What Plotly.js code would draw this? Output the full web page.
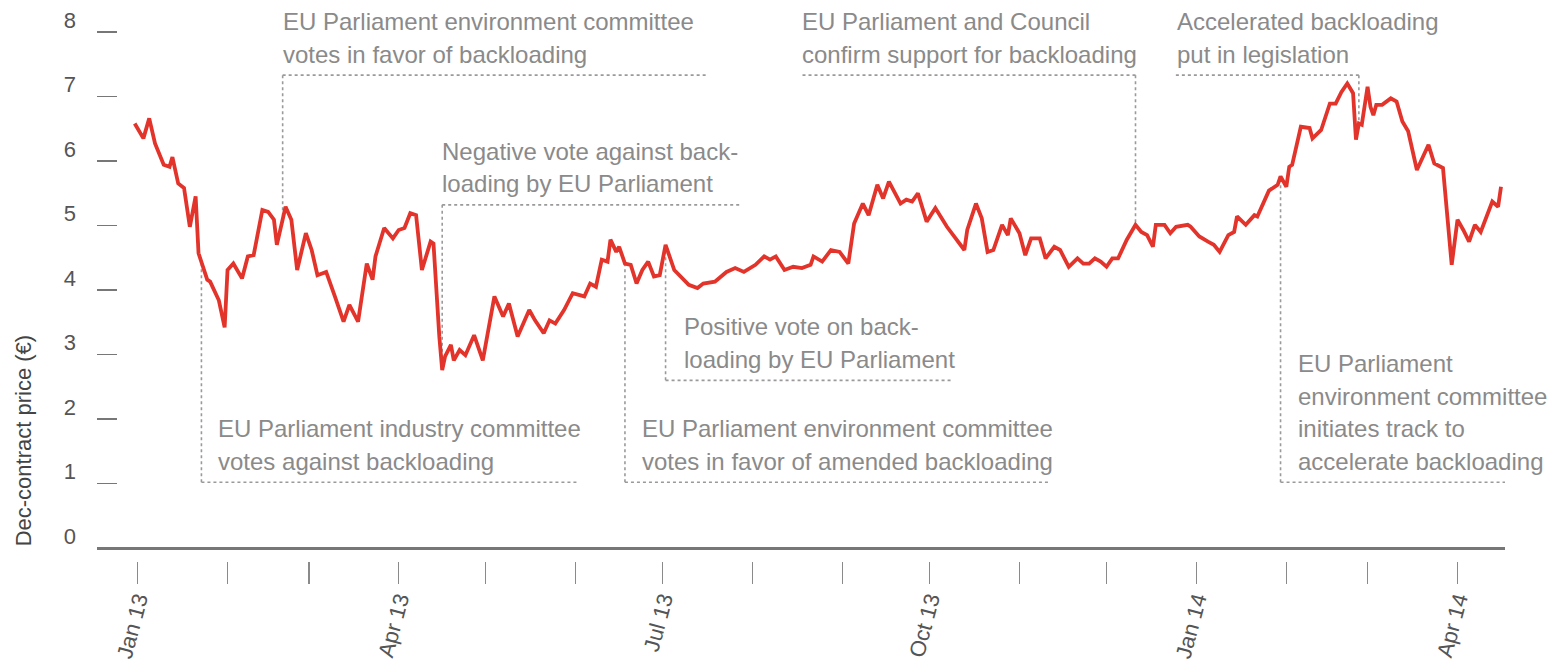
<!DOCTYPE html>
<html>
<head>
<meta charset="utf-8">
<script src="https://cdn.plot.ly/plotly-3.0.1.min.js"></script>
<style>html,body{margin:0;padding:0;background:#fff;}#chart{width:1555px;height:670px;}</style>
</head>
<body>
<div id="chart"></div>
<script>
// ---- data ----
const dates = [
'2012-12-31','2013-01-03','2013-01-05','2013-01-07','2013-01-10','2013-01-12','2013-01-13','2013-01-15','2013-01-17','2013-01-19',
'2013-01-21','2013-01-22','2013-01-25','2013-01-26','2013-01-29','2013-01-31','2013-02-01','2013-02-03','2013-02-06','2013-02-08',
'2013-02-10','2013-02-13','2013-02-15','2013-02-17','2013-02-18','2013-02-21','2013-02-23','2013-02-25','2013-02-28','2013-03-02',
'2013-03-04','2013-03-07','2013-03-10','2013-03-13','2013-03-15','2013-03-18','2013-03-21','2013-03-23','2013-03-24','2013-03-27',
'2013-03-30','2013-04-01','2013-04-03','2013-04-05','2013-04-07','2013-04-09','2013-04-12','2013-04-13','2013-04-15','2013-04-16',
'2013-04-17','2013-04-19','2013-04-20','2013-04-22','2013-04-24','2013-04-27','2013-04-30','2013-05-02','2013-05-04','2013-05-07',
'2013-05-09','2013-05-12','2013-05-16','2013-05-18','2013-05-21','2013-05-23','2013-05-25','2013-05-28','2013-05-31','2013-06-04',
'2013-06-06','2013-06-08','2013-06-10','2013-06-12','2013-06-13','2013-06-15','2013-06-16','2013-06-18','2013-06-20','2013-06-22',
'2013-06-24','2013-06-26','2013-06-28','2013-06-30','2013-07-02','2013-07-05','2013-07-08','2013-07-10','2013-07-13','2013-07-15',
'2013-07-19','2013-07-23','2013-07-26','2013-07-29','2013-08-02','2013-08-05','2013-08-07','2013-08-09','2013-08-12','2013-08-15',
'2013-08-18','2013-08-21','2013-08-22','2013-08-25','2013-08-28','2013-08-31','2013-09-03','2013-09-05','2013-09-08','2013-09-10',
'2013-09-13','2013-09-15','2013-09-17','2013-09-21','2013-09-23','2013-09-25','2013-09-27','2013-09-30','2013-10-03','2013-10-07',
'2013-10-10','2013-10-13','2013-10-14','2013-10-17','2013-10-19','2013-10-21','2013-10-23','2013-10-26','2013-10-28','2013-10-29',
'2013-11-01','2013-11-03','2013-11-05','2013-11-08','2013-11-10','2013-11-13','2013-11-15','2013-11-18','2013-11-21','2013-11-23',
'2013-11-25','2013-11-27','2013-11-29','2013-12-01','2013-12-03','2013-12-05','2013-12-08','2013-12-11','2013-12-13','2013-12-15',
'2013-12-17','2013-12-18','2013-12-21','2013-12-23','2013-12-25','2013-12-29','2013-12-30','2014-01-02','2014-01-05','2014-01-07',
'2014-01-09','2014-01-12','2014-01-14','2014-01-15','2014-01-18','2014-01-21','2014-01-22','2014-01-24','2014-01-26','2014-01-29',
'2014-01-30','2014-02-01','2014-02-02','2014-02-03','2014-02-06','2014-02-09','2014-02-10','2014-02-13','2014-02-16','2014-02-18',
'2014-02-20','2014-02-22','2014-02-24','2014-02-25','2014-02-26','2014-02-27','2014-03-01','2014-03-02','2014-03-03','2014-03-04',
'2014-03-06','2014-03-09','2014-03-11','2014-03-13','2014-03-15','2014-03-18','2014-03-20','2014-03-22','2014-03-24','2014-03-27',
'2014-03-30','2014-04-01','2014-04-03','2014-04-05','2014-04-07','2014-04-09','2014-04-13','2014-04-15','2014-04-16'
];
const prices = [
6.58,6.35,6.66,6.27,5.94,5.91,6.06,5.65,5.58,4.98,
5.45,4.57,4.16,4.13,3.84,3.42,4.31,4.41,4.18,4.52,
4.54,5.24,5.21,5.09,4.70,5.29,5.09,4.31,4.88,4.62,
4.23,4.28,3.90,3.51,3.77,3.51,4.41,4.16,4.52,4.96,
4.80,4.93,4.96,5.19,5.16,4.31,4.75,4.72,3.28,2.76,
2.97,3.15,2.91,3.07,2.99,3.30,2.91,3.38,3.90,3.59,
3.79,3.28,3.69,3.53,3.33,3.53,3.48,3.69,3.95,3.90,
4.10,4.05,4.47,4.44,4.78,4.59,4.67,4.41,4.39,4.10,
4.31,4.44,4.21,4.23,4.70,4.31,4.18,4.08,4.03,4.10,
4.13,4.28,4.34,4.28,4.39,4.52,4.47,4.52,4.31,4.36,
4.34,4.39,4.52,4.44,4.62,4.59,4.41,5.03,5.34,5.16,
5.63,5.42,5.68,5.34,5.40,5.37,5.50,5.06,5.27,4.98,
4.80,4.62,4.93,5.34,5.11,4.59,4.62,5.01,4.85,5.11,
4.88,4.54,4.80,4.80,4.49,4.67,4.62,4.36,4.49,4.41,
4.41,4.49,4.44,4.36,4.49,4.49,4.78,5.01,4.90,4.85,
4.67,5.01,5.01,4.88,4.98,5.01,4.98,4.83,4.75,4.70,
4.59,4.85,4.90,5.14,5.01,5.16,5.14,5.34,5.54,5.63,
5.76,5.60,5.91,5.94,6.53,6.51,6.35,6.48,6.89,6.89,
7.07,7.20,7.05,6.33,6.58,6.56,7.15,6.84,6.71,6.87,
6.87,6.97,6.92,6.61,6.46,5.86,6.07,6.25,5.96,5.89,
4.39,5.09,4.93,4.75,5.01,4.90,5.37,5.29,5.60
];

const monthTicks = ['2013-01-01','2013-02-01','2013-03-01','2013-04-01','2013-05-01','2013-06-01','2013-07-01','2013-08-01',
  '2013-09-01','2013-10-01','2013-11-01','2013-12-01','2014-01-01','2014-02-01','2014-03-01','2014-04-01'];
const monthLabels = ['Jan 13','','','Apr 13','','','Jul 13','','','Oct 13','','','Jan 14','','','Apr 14'];
const yTicks = [0,1,2,3,4,5,6,7,8];

const eventDates = ['2013-01-23','2013-02-20','2013-04-16','2013-06-18','2013-07-02','2013-12-11','2014-01-30','2014-02-26'];
const eventLabels = [
  ['EU Parliament industry committee', 'votes against backloading'],
  ['EU Parliament environment committee', 'votes in favor of backloading'],
  ['Negative vote against back-', 'loading by EU Parliament'],
  ['EU Parliament environment committee', 'votes in favor of amended backloading'],
  ['Positive vote on back-', 'loading by EU Parliament'],
  ['EU Parliament and Council', 'confirm support for backloading'],
  ['EU Parliament', 'environment committee', 'initiates track to', 'accelerate backloading'],
  ['Accelerated backloading', 'put in legislation']
];

// ---- callout placement (layout only) ----
const calloutPlace = [
  {level: 1.02, dir: 1,  len: 377, dx: 15},
  {level: 7.33, dir: 1,  len: 425, dx: -2},
  {level: 5.32, dir: 1,  len: 298, dx: -2},
  {level: 1.02, dir: 1,  len: 424, dx: 15},
  {level: 2.60, dir: 1,  len: 287, dx: 16},
  {level: 7.33, dir: -1, len: 334, dx: -336},
  {level: 1.02, dir: 1,  len: 260, dx: 15},
  {level: 7.33, dir: -1, len: 185, dx: -184}
];
const LINE_GAP = 21;     // px from bracket to centre of last text line
const LINE_STEP = 32.5;  // px between text lines

const FONT = 'Liberation Sans, Arial, Helvetica, sans-serif';
const dotLine = {color: '#9a9a9a', width: 1.6, dash: 'dot'};
const ms = d => Date.parse(d + 'T00:00:00Z');
function priceAt(d) {
  const t = ms(d);
  for (let i = 0; i < dates.length - 1; i++) {
    const a = ms(dates[i]), b = ms(dates[i + 1]);
    if (t >= a && t <= b) return prices[i] + (prices[i + 1] - prices[i]) * (t - a) / (b - a);
  }
  return prices[prices.length - 1];
}

const shapes = [];
const annotations = [];
eventDates.forEach((d, i) => {
  const p = calloutPlace[i];
  shapes.push({type: 'line', xref: 'x', yref: 'y', x0: d, x1: d, y0: p.level, y1: priceAt(d), line: dotLine, layer: 'below'});
  shapes.push({type: 'line', xref: 'x', xsizemode: 'pixel', xanchor: d, x0: 0, x1: p.dir * p.len,
               yref: 'y', y0: p.level, y1: p.level, line: dotLine, layer: 'below'});
  const lines = eventLabels[i];
  lines.forEach((txt, k) => {
    annotations.push({xref: 'x', x: d, xanchor: 'left', xshift: p.dx, yref: 'y', y: p.level, yanchor: 'middle',
      yshift: LINE_GAP + (lines.length - 1 - k) * LINE_STEP,
      text: txt, align: 'left', showarrow: false, font: {family: FONT, size: 24, color: '#8a8a8a'}});
  });
});
annotations.push({xref: 'paper', x: 0, xshift: -74, xanchor: 'center', yref: 'y', y: 1.67, yanchor: 'middle',
  text: 'Dec-contract price (€)', textangle: -90, showarrow: false, font: {family: FONT, size: 22, color: '#444'}});

const trace = {x: dates, y: prices, type: 'scatter', mode: 'lines',
  line: {color: '#e3342b', width: 3.8, shape: 'linear'}, hoverinfo: 'x+y'};

const layout = {
  width: 1555, height: 670,
  margin: {l: 97, r: 50, t: 19, b: 109, pad: 0},
  paper_bgcolor: '#fff', plot_bgcolor: '#fff',
  showlegend: false,
  font: {family: FONT, color: '#555'},
  xaxis: {type: 'date', range: ['2012-12-18', '2014-04-17 09:00'], tickmode: 'array', tickvals: monthTicks, ticktext: monthLabels,
    tickangle: -75, ticks: 'outside', ticklen: 22, tickwidth: 1.5, tickcolor: '#8a8a8a',
    showgrid: false, zeroline: false, showline: false, ticklabelstandoff: -6,
    tickfont: {family: FONT, size: 22, color: '#555'}},
  yaxis: {range: [-0.2, 8.2], tickmode: 'array', tickvals: yTicks, ticktext: yTicks.map(String),
    ticks: 'inside', ticklen: 20, tickwidth: 1.5, tickcolor: '#777',
    showgrid: false, showline: false, zeroline: true, zerolinecolor: '#777', zerolinewidth: 3,
    ticklabelshift: -12, ticklabelstandoff: 20, tickfont: {family: FONT, size: 22, color: '#555'}},
  shapes: shapes,
  annotations: annotations
};

Plotly.newPlot('chart', [trace], layout, {displayModeBar: false, staticPlot: true});
</script>
</body>
</html>
